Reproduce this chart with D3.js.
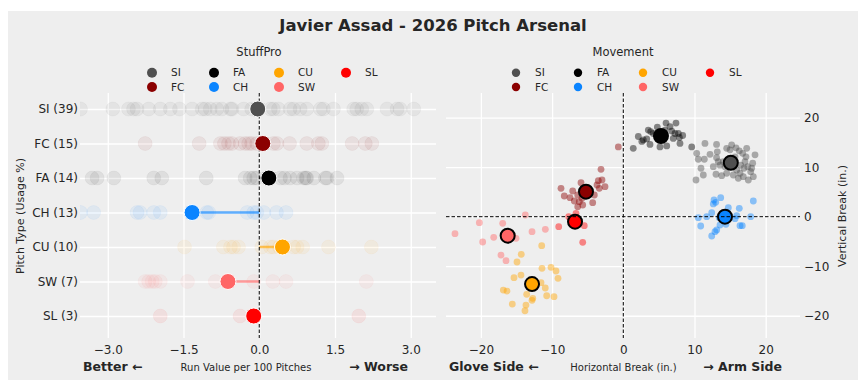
<!DOCTYPE html>
<html>
<head>
<meta charset="utf-8">
<script src="https://cdn.jsdelivr.net/npm/d3@7"></script>
<style>
	body { margin: 0; background: #fff; }
	svg text { font-family: 'DejaVu Sans', sans-serif; fill: #262626; }
</style>
</head>
<body>
<svg id="arsenal" width="868" height="392"></svg>
<script>
var pitchTypes = ['SI', 'FC', 'FA', 'CH', 'CU', 'SW', 'SL'];
var usage = [39, 15, 14, 13, 10, 7, 3];
var pitchColors = ['#505050', '#8b0000', '#000000', '#0a84ff', '#ffa500', '#ff6666', '#ff0000'];

// run value per 100 pitches, per outing
var rvSI = [-3.54, -2.90, -2.59, -2.49, -2.42, -2.19, -1.96, -1.76, -1.58, -1.33, -1.13, -1.07, -0.97, -0.84, -0.74, -0.57, -0.54, -0.31, -0.15, 0.22, 0.28, 0.38, 0.61, 0.68, 0.81, 0.94, 1.21, 1.27, 1.47, 1.87, 1.93, 2.03, 2.13, 2.53, 2.73, 2.79, 3.06];
var rvFC = [-2.26, -1.19, -0.77, -0.69, -0.61, -0.54, -0.38, -0.28, -0.21, -0.15, -0.05, 0.28, 0.35, 0.60, 0.94, 1.17, 1.24, 1.84, 2.10, 2.23];
var rvFA = [-3.31, -3.21, -2.88, -2.09, -1.93, -1.05, -0.28, -0.18, -0.11, -0.05, 0.42, 0.50, 0.61, 0.75, 0.88, 0.92, 0.94, 1.08, 1.31, 1.34, 1.54];
var rvCH = [-3.54, -3.28, -2.42, -2.36, -2.09, -1.96, -1.04, -1.00, -0.24, -0.11, -0.05, 0.09, 0.34, 0.53];
var rvCU = [-1.48, -0.71, -0.57, -0.51, -0.41, 0.05, 0.22, 0.28, 0.40, 0.50, 0.68, 0.75, 0.86, 1.37, 2.22];
var rvSW = [-2.26, -2.19, -2.12, -2.06, -1.96, -1.42, -0.87, -0.11, 0.27, 0.53, 2.12];
var rvSL = [-1.96, -0.38, 1.97];
var rvMean = [-0.03, 0.07, 0.19, -1.33, 0.46, -0.62, -0.11];

// movement: [horizontal break, vertical break] in inches
var mvSI = [[11.47, 14.8], [10.31, 12.8], [10.53, 11.6], [11.38, 11.6], [10.91, 9.78], [10.21, 7.41], [11.24, 8.42], [12.18, 12.6], [13.10, 14.6], [13.20, 13.1], [13.10, 11.9], [12.64, 10.1], [13.02, 8.57], [13.82, 8.28], [13.34, 11.1], [13.58, 10.4], [14.52, 13.8], [15.22, 14.5], [14.99, 13.5], [15.83, 13.9], [16.29, 13.3], [16.77, 12.8], [17.33, 13.8], [17.23, 12.1], [17.09, 11.1], [17.47, 10.1], [18.17, 10.8], [18.50, 12.5], [17.89, 9.09], [17.56, 7.41], [16.85, 8.08], [16.39, 8.77], [15.93, 9.43], [15.45, 8.42], [14.52, 8.77], [14.28, 10.1], [15.69, 12.1], [16.49, 10.4], [16.15, 7.76], [18.26, 8.08], [14.04, 11.1], [16.95, 9.78], [18.03, 9.78]];
var mvFC = [[-0.70, 14.1], [-3.13, 9.57], [-2.99, 7.41], [-3.51, 7.27], [-2.57, 6.06], [-3.69, 6.40], [-5.94, 6.87], [-8.75, 5.74], [-7.11, 5.19], [-8.29, 4.18], [-7.49, 3.84], [-6.40, 4.38], [-6.88, 3.17], [-6.18, 3.03], [-5.70, 2.36], [-6.40, 2.02], [-4.30, 2.83], [-4.07, 4.38], [-4.78, 4.73], [-3.37, 5.74], [-5.80, 3.72]];
var mvFA = [[1.40, 13.8], [2.11, 16.2], [2.81, 15.5], [3.29, 15.7], [3.51, 17.5], [3.85, 17.2], [4.21, 16.8], [4.78, 18.1], [6.00, 18.9], [6.56, 18.2], [6.80, 17.3], [7.40, 18.9], [7.73, 16.8], [7.96, 14.8], [8.34, 16.4], [7.87, 16.0], [5.86, 17.5], [5.15, 14.1], [6.10, 14.3], [2.60, 15.2], [3.75, 14.6], [7.02, 15.8], [7.26, 16.8], [9.61, 14.1]];
var mvCH = [[12.74, 3.37], [12.98, 2.91], [12.64, 2.57], [13.68, 3.84], [18.26, 3.17], [16.29, 1.70], [14.75, 1.82], [12.42, 0.81], [11.71, 0.0], [10.53, -0.2], [10.87, -1.88], [13.48, -0.2], [15.69, -0.4], [15.93, 0.2], [17.89, 0.0], [16.39, -1.82], [16.71, -1.82], [14.42, -1.54], [13.58, -1.68], [13.12, -2.69], [12.88, -3.03], [12.42, -3.90]];
var mvCU = [[-11.46, -5.86], [-14.33, -7.60], [-14.93, -9.15], [-11.42, -10.42], [-10.15, -10.22], [-9.45, -10.97], [-9.17, -12.44], [-14.37, -11.78], [-15.35, -12.32], [-11.56, -13.33], [-10.96, -14.40], [-16.85, -14.81], [-16.33, -15.01], [-13.57, -15.68], [-12.72, -16.48], [-12.82, -16.89], [-10.76, -15.96], [-9.73, -16.16], [-15.59, -17.64], [-13.67, -17.84], [-13.81, -18.99]];
var mvSW = [[-13.76, 0.34], [-20.22, -1.21], [-16.94, -1.34], [-23.64, -3.43], [-19.75, -5.11], [-18.20, -4.16], [-15.07, -4.37], [-15.53, -3.90], [-12.82, -3.03], [-10.95, -2.55], [-17.18, -7.74], [-16.47, -8.89]];
var mvSL = [[-6.64, 0.69], [-7.67, 0.0], [-9.07, -2.02], [-5.48, -1.82], [-5.70, -5.18]];
var mvMean = [[15.1, 10.9], [-5.24, 5.05], [5.29, 16.3], [14.28, 0.0], [-12.82, -13.6], [-16.24, -3.84], [-6.78, -1.01]];

var leftTicks = [-3, -1.5, 0, 1.5, 3];
var rightTicks = [-20, -10, 0, 10, 20];

var rvGames = [rvSI, rvFC, rvFA, rvCH, rvCU, rvSW, rvSL];
var mvPitches = [mvSI, mvFC, mvFA, mvCH, mvCU, mvSW, mvSL];

var svg = d3.select('#arsenal');

svg.append('rect')
	.attr('x', 8).attr('y', 11)
	.attr('width', 850).attr('height', 369)
	.attr('fill', '#eeeeee');

svg.append('text')
	.attr('x', 433).attr('y', 30.5)
	.attr('text-anchor', 'middle')
	.attr('font-size', 16.5).attr('font-weight', 'bold')
	.text('Javier Assad - 2026 Pitch Arsenal');

var plotTop = 93, plotBottom = 338;

function color(p) { return pitchColors[pitchTypes.indexOf(p)]; }

function legend(cx, title, rMark) {
	var g = svg.append('g');
	g.append('text')
		.attr('x', cx).attr('y', 56)
		.attr('text-anchor', 'middle')
		.attr('font-size', 11.5)
		.text(title);
	var colX = [-107, -45, 20, 87];
	var item = g.selectAll('g.item')
		.data(pitchTypes)
		.enter().append('g')
		.attr('class', 'item')
		.attr('transform', function (d, i) {
			return 'translate(' + (cx + colX[Math.floor(i / 2)]) + ' ' + (i % 2 ? 87 : 72.7) + ')';
		});
	item.append('circle')
		.attr('r', rMark)
		.attr('fill', function (d) { return color(d); });
	item.append('text')
		.attr('x', 19).attr('dy', '0.35em')
		.attr('font-size', 10.5)
		.text(function (d) { return d; });
}

function sideLabels(xStart, xMid, xEnd, lo, mid, hi) {
	svg.append('text').attr('x', xStart).attr('y', 370.5)
		.attr('font-size', 12.5).attr('font-weight', 'bold').text(lo);
	svg.append('text').attr('x', xMid).attr('y', 370.5)
		.attr('text-anchor', 'middle').attr('font-size', 10).attr('fill', '#333').text(mid);
	svg.append('text').attr('x', xEnd).attr('y', 370.5)
		.attr('text-anchor', 'end').attr('font-size', 12.5).attr('font-weight', 'bold').text(hi);
}

// ---------- left: StuffPro ----------
var xL = d3.scaleLinear().domain([-3.55, 3.5]).range([80, 436]);
var yL = d3.scalePoint().domain(pitchTypes).range([109, 316]);

var left = svg.append('g');
left.append('clipPath').attr('id', 'clipL')
	.append('rect').attr('x', 80).attr('y', plotTop).attr('width', 356).attr('height', plotBottom - plotTop);

left.append('g')
	.attr('transform', 'translate(0,' + plotBottom + ')')
	.call(d3.axisBottom(xL).tickValues(leftTicks).tickSize(-(plotBottom - plotTop)).tickFormat(''))
	.call(function (g) { g.select('.domain').remove(); })
	.selectAll('line').attr('stroke', '#ffffff').attr('stroke-width', 1.3);
left.append('g')
	.attr('transform', 'translate(80,0)')
	.call(d3.axisLeft(yL).tickSize(-356).tickFormat(''))
	.call(function (g) { g.select('.domain').remove(); })
	.selectAll('line').attr('stroke', '#ffffff').attr('stroke-width', 1.3);

var games = [];
pitchTypes.forEach(function (p, i) {
	rvGames[i].forEach(function (v) { games.push({pitch: p, rv: v}); });
});

left.append('g')
	.attr('clip-path', 'url(#clipL)')
	.selectAll('circle')
	.data(games)
	.enter().append('circle')
	.attr('cx', function (d) { return xL(d.rv); })
	.attr('cy', function (d) { return yL(d.pitch); })
	.attr('r', 7)
	.attr('fill', function (d) { return color(d.pitch); })
	.attr('fill-opacity', 0.065)
	.attr('stroke', function (d) { return color(d.pitch); })
	.attr('stroke-opacity', 0.04);

var means = pitchTypes.map(function (p, i) { return {pitch: p, rv: rvMean[i], usage: usage[i]}; });

left.append('g')
	.selectAll('line')
	.data(means)
	.enter().append('line')
	.attr('x1', xL(0))
	.attr('x2', function (d) { return xL(d.rv); })
	.attr('y1', function (d) { return yL(d.pitch); })
	.attr('y2', function (d) { return yL(d.pitch); })
	.attr('stroke', function (d) { return color(d.pitch); })
	.attr('stroke-opacity', 0.65)
	.attr('stroke-width', 2.5);

left.append('line')
	.attr('x1', xL(0)).attr('x2', xL(0))
	.attr('y1', plotTop).attr('y2', plotBottom)
	.attr('stroke', '#000').attr('stroke-width', 1)
	.attr('stroke-dasharray', '3.5,2');

left.append('g')
	.selectAll('circle')
	.data(means)
	.enter().append('circle')
	.attr('cx', function (d) { return xL(d.rv); })
	.attr('cy', function (d) { return yL(d.pitch); })
	.attr('r', 8)
	.attr('fill', function (d) { return color(d.pitch); })
	.attr('stroke', '#ffffff')
	.attr('stroke-width', 1);

var axL = left.append('g')
	.attr('transform', 'translate(0,' + plotBottom + ')')
	.call(d3.axisBottom(xL).tickValues(leftTicks).tickSize(0).tickPadding(7).tickFormat(d3.format('.1f')));
axL.select('.domain').remove();
axL.selectAll('text').attr('font-size', 12).attr('font-family', 'DejaVu Sans').attr('fill', '#333');

var ayL = left.append('g')
	.attr('transform', 'translate(80,0)')
	.call(d3.axisLeft(yL).tickSize(0).tickPadding(2).tickFormat(function (d, i) { return d + ' (' + usage[i] + ')'; }));
ayL.select('.domain').remove();
ayL.selectAll('text').attr('font-size', 12).attr('font-family', 'DejaVu Sans').attr('fill', '#333');

left.append('text')
	.attr('transform', 'translate(24,216) rotate(-90)')
	.attr('text-anchor', 'middle').attr('font-size', 11)
	.text('Pitch Type (Usage %)');

sideLabels(83, 246, 408, 'Better \u2190', 'Run Value per 100 Pitches', '\u2192 Worse');
legend(259, 'StuffPro', 5);

// ---------- right: Movement ----------
var xR = d3.scaleLinear().domain([-25, 25]).range([445.3, 801.3]);
var yR = d3.scaleLinear().domain([-25, 25]).range([340.5, 92.9]);

var right = svg.append('g');

right.append('g')
	.attr('transform', 'translate(0,' + plotBottom + ')')
	.call(d3.axisBottom(xR).tickValues(rightTicks).tickSize(-(plotBottom - plotTop)).tickFormat(''))
	.call(function (g) { g.select('.domain').remove(); })
	.selectAll('line').attr('stroke', '#ffffff').attr('stroke-width', 1.3);
right.append('g')
	.attr('transform', 'translate(446,0)')
	.call(d3.axisLeft(yR).tickValues(rightTicks).tickSize(-354).tickFormat(''))
	.call(function (g) { g.select('.domain').remove(); })
	.selectAll('line').attr('stroke', '#ffffff').attr('stroke-width', 1.3);

var pitches = [];
pitchTypes.forEach(function (p, i) {
	mvPitches[i].forEach(function (m) { pitches.push({pitch: p, hb: m[0], vb: m[1]}); });
});

right.append('g')
	.selectAll('circle')
	.data(pitches)
	.enter().append('circle')
	.attr('cx', function (d) { return xR(d.hb); })
	.attr('cy', function (d) { return yR(d.vb); })
	.attr('r', 3.4)
	.attr('fill', function (d) { return color(d.pitch); })
	.attr('fill-opacity', 0.45);

right.append('g')
	.selectAll('circle')
	.data(pitchTypes.map(function (p, i) { return {pitch: p, hb: mvMean[i][0], vb: mvMean[i][1]}; }))
	.enter().append('circle')
	.attr('cx', function (d) { return xR(d.hb); })
	.attr('cy', function (d) { return yR(d.vb); })
	.attr('r', 7)
	.attr('fill', function (d) { return color(d.pitch); })
	.attr('stroke', '#000')
	.attr('stroke-width', 2);

right.append('line')
	.attr('x1', xR(0)).attr('x2', xR(0))
	.attr('y1', plotTop).attr('y2', plotBottom)
	.attr('stroke', '#000').attr('stroke-width', 1)
	.attr('stroke-dasharray', '3.5,2');
right.append('line')
	.attr('x1', 446).attr('x2', 800)
	.attr('y1', yR(0)).attr('y2', yR(0))
	.attr('stroke', '#000').attr('stroke-width', 1)
	.attr('stroke-dasharray', '3.5,2');

var axR = right.append('g')
	.attr('transform', 'translate(0,' + plotBottom + ')')
	.call(d3.axisBottom(xR).tickValues(rightTicks).tickSize(0).tickPadding(7));
axR.select('.domain').remove();
axR.selectAll('text').attr('font-size', 12).attr('font-family', 'DejaVu Sans').attr('fill', '#333');

var ayR = right.append('g')
	.attr('transform', 'translate(800,0)')
	.call(d3.axisRight(yR).tickValues(rightTicks).tickSize(0).tickPadding(4));
ayR.select('.domain').remove();
ayR.selectAll('text').attr('font-size', 12).attr('font-family', 'DejaVu Sans').attr('fill', '#333');

right.append('text')
	.attr('transform', 'translate(846,216) rotate(-90)')
	.attr('text-anchor', 'middle').attr('font-size', 11)
	.text('Vertical Break (in.)');

sideLabels(449, 623.5, 782, 'Glove Side \u2190', 'Horizontal Break (in.)', '\u2192 Arm Side');
legend(623, 'Movement', 4.2);
</script>
</body>
</html>
